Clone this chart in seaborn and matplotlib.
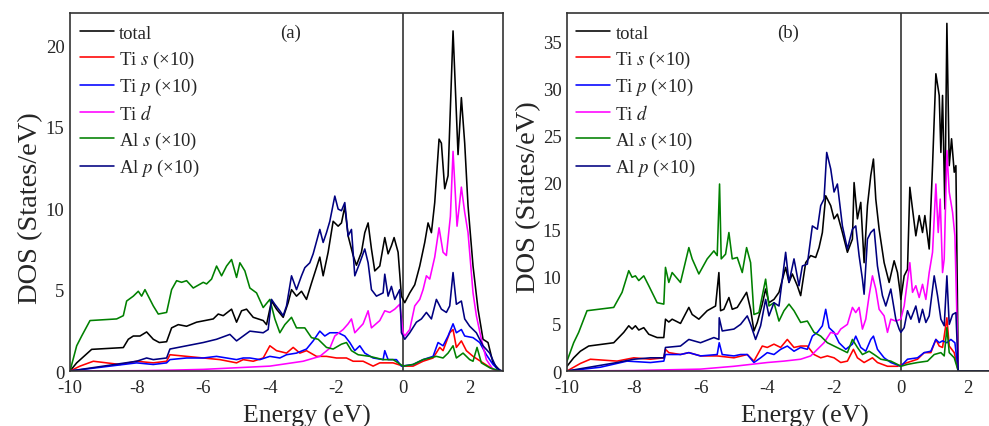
import matplotlib
matplotlib.use("Agg")
import matplotlib.pyplot as plt
from matplotlib.ticker import MultipleLocator
import seaborn as sns
import pandas as pd

# ---------------- data (energy in eV, DOS in States/eV) ----------------
SERIES_LABELS = ["total", "Ti $s$ (×10)", "Ti $p$ (×10)", "Ti $d$", "Al $s$ (×10)", "Al $p$ (×10)"]
SERIES_COLORS = ["#000000", "#ff0000", "#0000ff", "#ff00ff", "#008000", "#000080"]
PANEL_TAGS = ["(a)", "(b)"]
FERMI_LEVEL = 0.0

A_TOTAL = [(-10, 0), (-9.8, 0.5), (-9.35, 1.33), (-8.4, 1.44), (-8.25, 1.95), (-8.1, 2.15), (-7.9, 2.15),
           (-7.7, 2.4), (-7.5, 1.95), (-7.32, 1.75), (-7.1, 1.8), (-6.95, 2.65), (-6.75, 2.85), (-6.5, 2.75),
           (-6.2, 3.0), (-5.95, 3.1), (-5.7, 3.2), (-5.55, 3.5), (-5.4, 3.4), (-5.15, 3.8), (-5.0, 3.0),
           (-4.85, 3.7), (-4.7, 3.8), (-4.5, 3.3), (-4.2, 3.1), (-4.1, 2.85), (-3.95, 4.3), (-3.8, 3.8),
           (-3.6, 3.3), (-3.45, 4.2), (-3.35, 5.0), (-3.2, 4.6), (-3.05, 4.9), (-2.9, 4.4), (-2.75, 5.4),
           (-2.5, 7.0), (-2.4, 5.85), (-2.25, 7.3), (-2.1, 9.2), (-1.95, 8.9), (-1.85, 9.1), (-1.75, 10.1),
           (-1.65, 8.3), (-1.5, 7.1), (-1.4, 6.5), (-1.25, 7.3), (-1.15, 8.5), (-1.05, 9.1), (-0.95, 7.5),
           (-0.85, 6.15), (-0.7, 6.45), (-0.55, 8.2), (-0.45, 7.2), (-0.35, 7.7), (-0.27, 8.2), (-0.15, 7.3),
           (-0.05, 4.6), (0.05, 4.2), (0.2, 4.8), (0.35, 5.3), (0.5, 6.45), (0.65, 7.9), (0.75, 9.1),
           (0.85, 8.5), (0.95, 10.35), (1.08, 14.25), (1.15, 14.0), (1.25, 11.2), (1.35, 12.0), (1.5, 20.9),
           (1.65, 13.3), (1.75, 16.8), (1.85, 14.0), (1.95, 10.15), (2.1, 6.45), (2.25, 3.8), (2.4, 1.95),
           (2.55, 1.75), (2.7, 0.5), (2.9, 0.05), (3.0, 0)]
A_TI_S = [(-10, 0), (-9.7, 0.3), (-9.3, 0.6), (-8.5, 0.4), (-8.0, 0.6), (-7.5, 0.5), (-7.1, 0.6), (-7.0, 1.0),
          (-6.5, 0.9), (-6.0, 0.8), (-5.5, 0.7), (-5.0, 0.5), (-4.8, 0.7), (-4.5, 0.6), (-4.2, 0.8), (-4.0, 1.55),
          (-3.8, 1.25), (-3.5, 1.1), (-3.3, 1.45), (-3.1, 1.1), (-2.9, 1.25), (-2.6, 0.9), (-2.3, 0.9), (-2.0, 0.8),
          (-1.7, 0.8), (-1.5, 0.6), (-1.2, 0.6), (-0.9, 0.3), (-0.7, 0.5), (-0.3, 0.5), (0.0, 0.3), (0.3, 0.3),
          (0.6, 0.6), (0.9, 0.8), (1.1, 1.45), (1.2, 1.25), (1.4, 2.35), (1.5, 2.55), (1.6, 1.45), (1.75, 1.85),
          (1.9, 1.25), (2.1, 0.9), (2.4, 0.5), (2.7, 0.1), (2.9, 0), (3.0, 0)]
A_TI_P = [(-10, 0), (-9, 0.25), (-8.0, 0.5), (-7.5, 0.4), (-7.1, 0.5), (-7.0, 0.7), (-6.5, 0.8), (-6.0, 0.8),
          (-5.6, 0.9), (-5.3, 0.8), (-5.0, 0.7), (-4.8, 0.8), (-4.6, 0.8), (-4.3, 0.7), (-4.0, 0.9), (-3.7, 0.8),
          (-3.5, 1.0), (-3.2, 1.1), (-2.9, 1.35), (-2.7, 1.85), (-2.5, 2.45), (-2.35, 2.15), (-2.2, 2.35),
          (-1.95, 2.35), (-1.75, 2.15), (-1.6, 1.75), (-1.45, 1.25), (-1.3, 1.55), (-1.15, 1.1), (-0.9, 0.8),
          (-0.6, 0.7), (-0.55, 1.25), (-0.45, 0.7), (-0.2, 0.7), (-0.05, 0.3), (0.3, 0.4), (0.6, 0.7),
          (0.9, 0.9), (1.05, 1.75), (1.2, 1.55), (1.35, 2.15), (1.5, 2.9), (1.6, 2.35), (1.75, 2.55),
          (1.85, 2.15), (2.1, 2.05), (2.3, 1.75), (2.5, 1.0), (2.7, 0.4), (2.9, 0), (3.0, 0)]
A_TI_D = [(-10, 0), (-8, 0.02), (-7, 0.05), (-6, 0.1), (-5, 0.2), (-4, 0.3), (-3.5, 0.45), (-3, 0.6),
          (-2.5, 0.9), (-2.2, 1.4), (-2.05, 2.15), (-1.8, 2.55), (-1.65, 2.9), (-1.55, 3.2), (-1.45, 2.35),
          (-1.2, 2.9), (-1.05, 3.7), (-0.95, 2.65), (-0.7, 3.1), (-0.55, 3.7), (-0.4, 3.6), (-0.25, 3.8),
          (-0.1, 4.1), (0.0, 2.35), (0.05, 2.15), (0.2, 2.55), (0.35, 4.0), (0.5, 4.4), (0.6, 5.0), (0.7, 5.85),
          (0.8, 5.65), (0.95, 7.0), (1.08, 8.8), (1.2, 7.3), (1.3, 7.1), (1.42, 9.5), (1.5, 13.5), (1.62, 8.9),
          (1.75, 11.3), (1.85, 9.75), (1.95, 8.5), (2.1, 4.8), (2.2, 3.4), (2.35, 1.95), (2.5, 0.7), (2.7, 0.1),
          (2.9, 0), (3.0, 0)]
A_AL_S = [(-10, 0), (-9.8, 1.55), (-9.65, 2.15), (-9.4, 3.1), (-8.6, 3.2), (-8.4, 3.4), (-8.3, 4.3), (-8.1, 4.6),
          (-7.95, 4.9), (-7.85, 4.6), (-7.75, 5.0), (-7.5, 4.0), (-7.35, 3.5), (-7.1, 3.6), (-6.95, 5.0),
          (-6.8, 5.55), (-6.65, 5.45), (-6.5, 5.55), (-6.3, 5.1), (-6.0, 5.45), (-5.9, 5.35), (-5.75, 5.65),
          (-5.6, 6.45), (-5.45, 5.85), (-5.3, 6.45), (-5.15, 6.85), (-5.0, 5.75), (-4.9, 6.65), (-4.75, 6.15),
          (-4.6, 5.1), (-4.4, 4.8), (-4.2, 3.9), (-4.0, 4.4), (-3.85, 3.2), (-3.7, 2.35), (-3.55, 2.85),
          (-3.35, 3.3), (-3.2, 2.65), (-2.95, 2.65), (-2.75, 2.05), (-2.55, 1.95), (-2.3, 1.45), (-2.1, 1.35),
          (-1.85, 1.65), (-1.7, 1.75), (-1.55, 1.25), (-1.35, 1.0), (-1.0, 0.9), (-0.6, 0.7), (-0.3, 0.7),
          (0.0, 0.3), (0.3, 0.4), (0.6, 0.7), (1.0, 0.9), (1.2, 0.8), (1.35, 1.1), (1.5, 1.55), (1.6, 0.8),
          (1.8, 1.1), (2.0, 0.7), (2.1, 0.6), (2.22, 1.45), (2.35, 0.5), (2.6, 0.2), (2.9, 0), (3.0, 0)]
A_AL_P = [(-10, 0), (-9, 0.3), (-8.0, 0.6), (-7.7, 0.8), (-7.5, 0.7), (-7.1, 0.8), (-7.0, 1.35), (-6.5, 1.55),
          (-6.0, 1.75), (-5.6, 1.95), (-5.2, 2.25), (-5.0, 1.85), (-4.8, 2.15), (-4.6, 2.45), (-4.2, 2.35),
          (-4.05, 2.55), (-3.95, 4.4), (-3.85, 4.1), (-3.7, 3.7), (-3.6, 3.4), (-3.5, 4.0), (-3.35, 5.85),
          (-3.2, 5.0), (-3.05, 5.85), (-2.95, 6.35), (-2.8, 6.65), (-2.7, 7.2), (-2.5, 8.7), (-2.4, 7.9),
          (-2.3, 8.5), (-2.2, 9.2), (-2.05, 10.75), (-1.95, 9.95), (-1.85, 9.85), (-1.75, 10.35), (-1.65, 8.3),
          (-1.55, 8.7), (-1.45, 5.85), (-1.3, 6.65), (-1.15, 7.5), (-1.05, 6.65), (-0.95, 5.0), (-0.8, 4.6),
          (-0.6, 4.8), (-0.55, 5.95), (-0.45, 4.6), (-0.35, 5.2), (-0.25, 4.4), (-0.1, 5.0), (-0.05, 2.35),
          (0.05, 1.95), (0.2, 2.35), (0.4, 3.0), (0.55, 3.2), (0.7, 3.6), (0.85, 3.2), (1.0, 4.4), (1.15, 3.8),
          (1.3, 3.6), (1.4, 4.0), (1.5, 6.05), (1.6, 4.1), (1.75, 4.3), (1.85, 3.2), (2.0, 2.75), (2.2, 2.35),
          (2.4, 1.55), (2.6, 1.1), (2.8, 0.2), (2.95, 0), (3.0, 0)]

B_TOTAL = [(-10, 0.5), (-9.8, 1.4), (-9.6, 2.1), (-9.35, 2.65), (-8.6, 3.0), (-8.3, 4.1), (-8.15, 4.8),
           (-8.05, 4.45), (-7.95, 4.8), (-7.85, 4.35), (-7.7, 4.6), (-7.55, 3.9), (-7.3, 3.55), (-7.1, 3.55),
           (-7.05, 5.5), (-6.95, 5.2), (-6.85, 5.5), (-6.6, 5.05), (-6.35, 6.75), (-6.25, 6.0), (-6.05, 5.5),
           (-5.8, 6.4), (-5.55, 6.9), (-5.45, 10.45), (-5.4, 6.4), (-5.3, 6.55), (-5.15, 7.8), (-5.05, 6.55),
           (-4.9, 6.75), (-4.75, 7.6), (-4.62, 8.35), (-4.5, 6.55), (-4.4, 4.25), (-4.3, 5.15), (-4.15, 7.1),
           (-4.05, 8.7), (-3.95, 7.25), (-3.8, 7.6), (-3.65, 8.35), (-3.45, 11.0), (-3.35, 9.4), (-3.25, 10.3),
           (-3.1, 9.05), (-3.0, 8.0), (-2.85, 11.5), (-2.7, 12.25), (-2.55, 12.05), (-2.45, 13.1), (-2.35, 14.7),
           (-2.25, 18.6), (-2.1, 17.55), (-2.0, 16.15), (-1.9, 16.65), (-1.75, 14.7), (-1.6, 12.6), (-1.45, 14.0),
           (-1.4, 20.0), (-1.3, 16.15), (-1.2, 17.9), (-1.1, 11.5), (-1.0, 17.55), (-0.9, 20.75), (-0.82, 22.5),
           (-0.75, 18.25), (-0.65, 15.05), (-0.5, 11.5), (-0.35, 9.4), (-0.2, 11.7), (-0.1, 10.45), (-0.02, 8.35),
           (0.0, 7.6), (0.1, 10.1), (0.2, 10.8), (0.27, 19.5), (0.35, 17.2), (0.45, 14.35), (0.55, 16.5),
           (0.65, 14.7), (0.72, 16.5), (0.85, 12.95), (0.95, 21.8), (1.05, 31.55), (1.15, 29.25), (1.2, 23.2),
           (1.25, 29.25), (1.32, 17.2), (1.38, 36.9), (1.45, 21.8), (1.52, 24.65), (1.6, 21.1), (1.65, 21.8),
           (1.72, 0), (3.0, 0)]
B_TI_S = [(-10, 0), (-9.6, 0.8), (-9.3, 1.25), (-8.5, 1.05), (-8.0, 1.4), (-7.5, 1.25), (-7.1, 1.4), (-7.05, 2.3),
          (-6.95, 1.95), (-6.6, 1.75), (-6.35, 1.95), (-6.0, 1.6), (-5.5, 1.6), (-5.0, 1.4), (-4.6, 1.75),
          (-4.4, 1.05), (-4.15, 2.65), (-4.0, 2.5), (-3.8, 2.85), (-3.6, 2.5), (-3.4, 3.35), (-3.2, 2.5),
          (-3.0, 2.65), (-2.8, 2.65), (-2.6, 1.75), (-2.4, 1.4), (-2.2, 1.6), (-2.0, 1.4), (-1.8, 0.9),
          (-1.6, 1.05), (-1.42, 2.3), (-1.3, 1.4), (-1.1, 0.9), (-0.85, 1.4), (-0.7, 0.9), (-0.4, 0.5),
          (-0.1, 0.5), (0.2, 0.9), (0.5, 1.25), (0.7, 1.95), (0.9, 1.95), (1.05, 3.35), (1.15, 2.65), (1.25, 2.5),
          (1.38, 5.65), (1.45, 2.65), (1.6, 1.95), (1.72, 0), (3.0, 0)]
B_TI_P = [(-10, 0), (-9, 0.4), (-8.2, 1.05), (-7.5, 0.9), (-7.1, 1.05), (-7.05, 1.75), (-6.6, 1.75), (-6.35, 1.95),
          (-6.0, 1.6), (-5.5, 1.75), (-5.44, 3.0), (-5.35, 1.75), (-5.0, 1.6), (-4.8, 1.75), (-4.6, 1.75),
          (-4.4, 0.9), (-4.2, 1.4), (-4.0, 1.95), (-3.8, 1.75), (-3.6, 2.3), (-3.4, 2.65), (-3.2, 2.1),
          (-3.0, 2.5), (-2.8, 2.3), (-2.65, 3.7), (-2.5, 4.1), (-2.35, 4.8), (-2.25, 6.55), (-2.15, 4.6),
          (-2.0, 4.1), (-1.85, 3.0), (-1.65, 2.3), (-1.45, 2.85), (-1.35, 3.7), (-1.2, 2.5), (-1.05, 2.1),
          (-0.9, 3.35), (-0.82, 3.7), (-0.7, 2.3), (-0.5, 1.4), (-0.3, 0.9), (0.0, 0.5), (0.2, 1.25), (0.5, 1.4),
          (0.7, 1.95), (0.9, 2.1), (1.05, 3.35), (1.15, 3.0), (1.25, 3.2), (1.38, 3.0), (1.5, 3.35), (1.62, 3.0),
          (1.72, 0), (3.0, 0)]
B_TI_D = [(-10, 0), (-8, 0.05), (-6, 0.2), (-5, 0.5), (-4.5, 0.7), (-4.0, 0.9), (-3.5, 1.05), (-3.0, 1.25),
          (-2.7, 1.6), (-2.5, 2.3), (-2.3, 3.0), (-2.1, 4.1), (-1.9, 3.9), (-1.8, 4.45), (-1.6, 4.95),
          (-1.45, 6.75), (-1.35, 6.2), (-1.25, 6.75), (-1.15, 4.45), (-1.05, 5.5), (-0.95, 8.0), (-0.85, 10.1),
          (-0.75, 8.7), (-0.65, 6.55), (-0.5, 5.85), (-0.4, 4.1), (-0.3, 5.5), (-0.15, 5.3), (0.0, 5.5),
          (0.1, 6.9), (0.27, 11.5), (0.35, 8.35), (0.45, 9.05), (0.55, 7.8), (0.65, 9.2), (0.75, 7.6),
          (0.85, 10.45), (0.95, 12.6), (1.05, 19.85), (1.12, 14.7), (1.18, 18.25), (1.25, 10.45), (1.3, 11.9),
          (1.38, 23.4), (1.45, 19.0), (1.55, 16.85), (1.62, 14.35), (1.72, 0), (3.0, 0)]
B_AL_S = [(-10, 1.05), (-9.8, 3.0), (-9.65, 4.1), (-9.4, 6.4), (-8.6, 6.75), (-8.35, 8.35), (-8.15, 10.65),
          (-8.05, 9.95), (-7.95, 10.1), (-7.85, 9.6), (-7.7, 10.1), (-7.55, 9.05), (-7.3, 7.25), (-7.1, 7.1),
          (-7.05, 11.0), (-6.95, 9.4), (-6.85, 10.45), (-6.6, 9.4), (-6.35, 13.1), (-6.25, 11.9), (-6.05, 10.3),
          (-5.8, 11.9), (-5.6, 12.75), (-5.5, 12.25), (-5.43, 19.85), (-5.38, 11.9), (-5.25, 12.4),
          (-5.15, 14.7), (-5.05, 11.9), (-4.9, 12.05), (-4.75, 10.45), (-4.62, 13.1), (-4.5, 11.5), (-4.4, 6.0),
          (-4.25, 6.2), (-4.05, 9.75), (-3.95, 6.9), (-3.8, 7.25), (-3.65, 5.3), (-3.5, 6.4), (-3.35, 7.1),
          (-3.2, 6.4), (-3.0, 5.15), (-2.8, 5.3), (-2.6, 4.1), (-2.4, 3.7), (-2.2, 3.0), (-2.0, 2.65), (-1.8, 2.3),
          (-1.6, 1.95), (-1.45, 3.35), (-1.3, 2.5), (-1.15, 1.75), (-0.95, 2.1), (-0.8, 1.75), (-0.6, 1.25),
          (-0.3, 1.05), (-0.1, 0.7), (0.0, 0.5), (0.2, 0.7), (0.5, 0.9), (0.8, 1.05), (1.0, 1.75), (1.2, 1.95),
          (1.3, 1.6), (1.38, 4.6), (1.45, 1.95), (1.6, 1.4), (1.72, 0), (3.0, 0)]
B_AL_P = [(-10, 0), (-8.5, 0.9), (-8.0, 1.25), (-7.5, 1.4), (-7.1, 1.4), (-7.05, 2.5), (-6.6, 2.65), (-6.35, 3.35),
          (-6.0, 3.0), (-5.6, 3.55), (-5.45, 3.35), (-5.44, 5.65), (-5.35, 4.25), (-5.0, 4.45), (-4.8, 4.95),
          (-4.6, 5.85), (-4.5, 4.95), (-4.35, 3.35), (-4.2, 4.8), (-4.05, 7.6), (-3.95, 5.85), (-3.8, 7.25),
          (-3.65, 6.9), (-3.45, 12.6), (-3.35, 9.4), (-3.2, 11.9), (-3.05, 9.05), (-2.95, 11.15), (-2.8, 11.35),
          (-2.65, 15.4), (-2.5, 15.05), (-2.4, 17.55), (-2.3, 18.25), (-2.22, 23.2), (-2.1, 21.45), (-2.0, 19.0),
          (-1.9, 19.85), (-1.75, 15.4), (-1.6, 12.95), (-1.45, 15.05), (-1.35, 15.4), (-1.25, 12.25),
          (-1.15, 9.75), (-1.1, 8.15), (-1.0, 14.0), (-0.9, 14.7), (-0.8, 15.05), (-0.7, 11.15), (-0.55, 8.0),
          (-0.45, 6.9), (-0.3, 8.7), (-0.15, 5.5), (-0.05, 4.45), (0.0, 4.1), (0.1, 4.6), (0.2, 6.4), (0.3, 5.5),
          (0.45, 6.9), (0.55, 5.15), (0.65, 6.55), (0.75, 5.15), (0.85, 5.85), (1.0, 10.1), (1.1, 8.0),
          (1.2, 5.5), (1.3, 4.8), (1.38, 10.1), (1.45, 4.95), (1.55, 6.0), (1.65, 6.2), (1.72, 0), (3.0, 0)]

PANEL_A = [A_TOTAL, A_TI_S, A_TI_P, A_TI_D, A_AL_S, A_AL_P]
PANEL_B = [B_TOTAL, B_TI_S, B_TI_P, B_TI_D, B_AL_S, B_AL_P]
X_LIMITS = (-10, 3)
Y_LIMITS = [(0, 22), (0, 38)]

# ---------------- style ----------------
sns.set_style("white")
plt.rcParams["font.family"] = ["Liberation Serif", "DejaVu Serif"]
plt.rcParams["mathtext.fontset"] = "stix"
plt.rcParams["axes.unicode_minus"] = False

fig = plt.figure(figsize=(9.89, 4.27), dpi=100)
positions = [[0.0708, 0.1288, 0.4378, 0.8384], [0.5733, 0.1288, 0.4388, 0.8384]]
ylabel_xy = [(-0.062, 0.458), (-0.059, 0.489)]
legend_x = [0.023, 0.021]

for k, panel in enumerate([PANEL_A, PANEL_B]):
    ax = fig.add_axes(positions[k])
    for series, label, color in zip(panel, SERIES_LABELS, SERIES_COLORS):
        df = pd.DataFrame(series, columns=["Energy", "DOS"])
        sns.lineplot(data=df, x="Energy", y="DOS", color=color, label=label, ax=ax,
                     linewidth=1.15, sort=False, estimator=None)
    ax.axvline(FERMI_LEVEL, color="#333333", linewidth=1.2, zorder=0)
    ax.set_xlim(*X_LIMITS)
    ax.set_ylim(*Y_LIMITS[k])
    ax.xaxis.set_major_locator(MultipleLocator(2))
    ax.xaxis.set_minor_locator(MultipleLocator(1))
    ax.yaxis.set_major_locator(MultipleLocator(5))
    ax.yaxis.set_minor_locator(MultipleLocator(1))
    ax.tick_params(which="both", direction="in", top=False, right=False, labelsize=13.5,
                   color="#333333", width=1.0)
    ax.tick_params(which="major", length=6)
    ax.tick_params(which="minor", length=3.5)
    ax.tick_params(axis="x", pad=6)
    ax.tick_params(axis="y", pad=4)
    for sp in ax.spines.values():
        sp.set_color("#333333")
        sp.set_linewidth(1.2)
    ax.set_xlabel("Energy (eV)", fontsize=18.5)
    ax.set_ylabel("DOS (States/eV)", fontsize=20.5)
    ax.xaxis.set_label_coords(0.548, -0.093)
    ax.yaxis.set_label_coords(*ylabel_xy[k])
    ax.text(0.51, 0.947, PANEL_TAGS[k], transform=ax.transAxes, ha="center", va="center", fontsize=13.5)
    ax.legend(loc="upper left", bbox_to_anchor=(legend_x[k], 0.967), frameon=False, fontsize=13.5,
              handlelength=1.8, handletextpad=0.3, labelspacing=0.35, borderpad=0, borderaxespad=0)

fig.savefig("out.png", dpi=100)
